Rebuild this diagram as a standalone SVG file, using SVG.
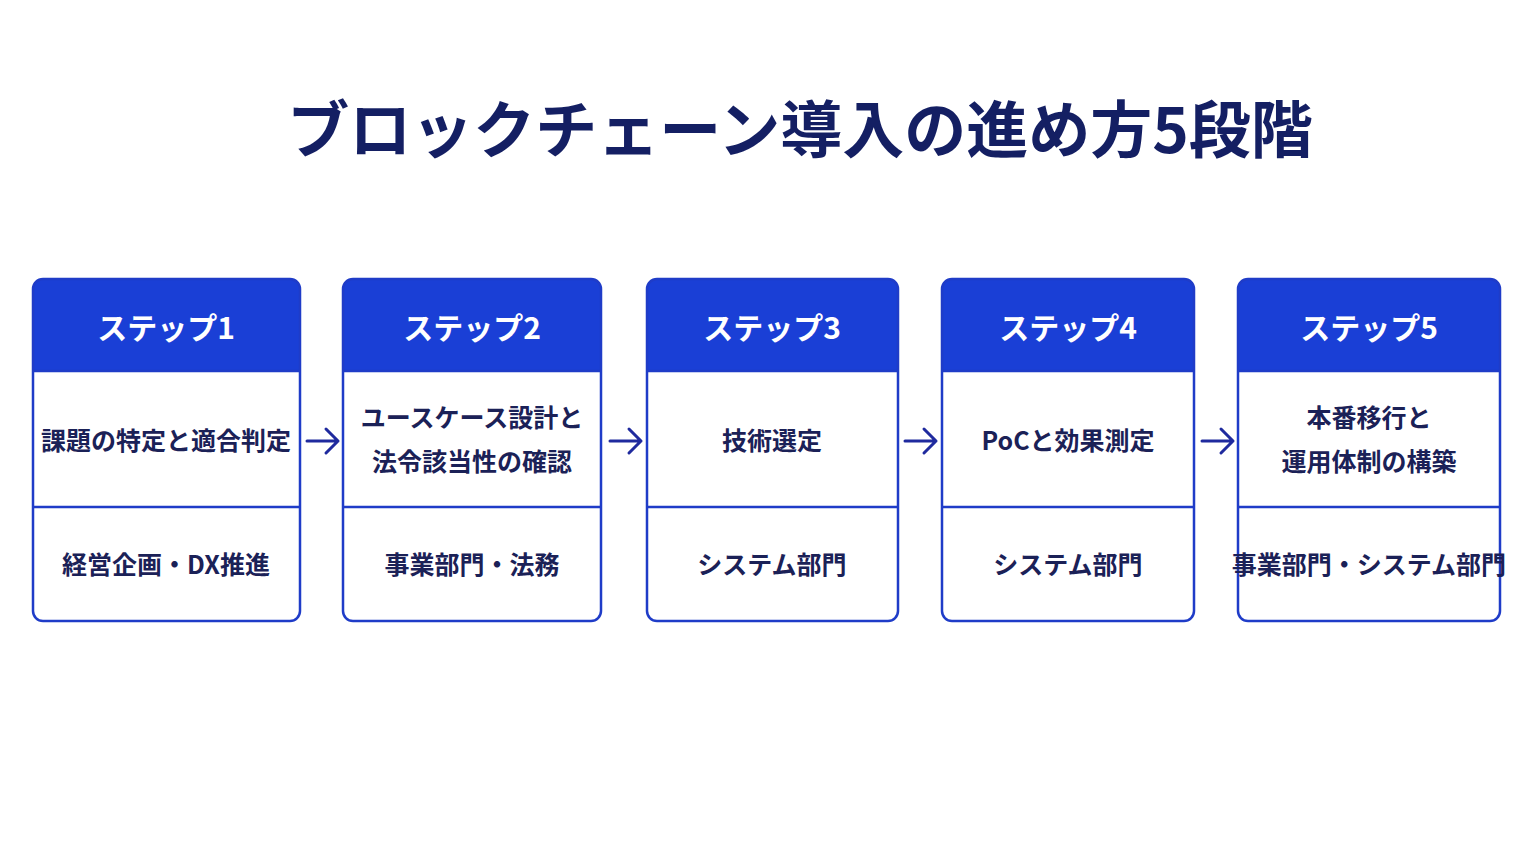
<svg xmlns="http://www.w3.org/2000/svg" width="1536" height="864" viewBox="0 0 1536 864">
<defs>
<style>
text{font-family:"Noto Sans CJK JP","Noto Sans",sans-serif;font-weight:700;text-anchor:middle}
.frame{fill:#fff;stroke:#1f3cc8;stroke-width:2.5}
.hd{fill:#1a3fd6}
.ht{fill:#fff;font-size:30px}
.bt{fill:#1b2157;font-size:25px}
.div{stroke:#1f3cc8;stroke-width:2.5}
.arr{stroke:#1f2a9e;stroke-width:3;fill:none;stroke-linecap:round;stroke-linejoin:round}
</style>
</defs>
<rect width="1536" height="864" fill="#fff"/>
<text x="800" y="153" font-size="62" fill="#141f63">ブロックチェーン導入の進め方5段階</text>
<g id="step1">
<path class="hd" d="M33 371V289a10 10 0 0 1 10-10h247a10 10 0 0 1 10 10v82z"/>
<rect class="frame" x="33" y="279" width="267" height="342" rx="10" fill="none" style="fill:none"/>
<line class="div" x1="33" y1="371" x2="300" y2="371"/><line class="div" x1="33" y1="507" x2="300" y2="507"/>
<text class="ht" x="166" y="339">ステップ1</text>
<text class="bt" x="166" y="450">課題の特定と適合判定</text>
<text class="bt" x="166" y="574">経営企画・DX推進</text>
</g>
<g id="step2">
<path class="hd" d="M343 371V289a10 10 0 0 1 10-10h238a10 10 0 0 1 10 10v82z"/>
<rect class="frame" x="343" y="279" width="258" height="342" rx="10" style="fill:none"/>
<line class="div" x1="343" y1="371" x2="601" y2="371"/><line class="div" x1="343" y1="507" x2="601" y2="507"/>
<text class="ht" x="472" y="339">ステップ2</text>
<text class="bt" x="472" y="427">ユースケース設計と</text>
<text class="bt" x="472" y="471">法令該当性の確認</text>
<text class="bt" x="472" y="574">事業部門・法務</text>
</g>
<g id="step3">
<path class="hd" d="M647 371V289a10 10 0 0 1 10-10h231a10 10 0 0 1 10 10v82z"/>
<rect class="frame" x="647" y="279" width="251" height="342" rx="10" style="fill:none"/>
<line class="div" x1="647" y1="371" x2="898" y2="371"/><line class="div" x1="647" y1="507" x2="898" y2="507"/>
<text class="ht" x="772" y="339">ステップ3</text>
<text class="bt" x="772" y="450">技術選定</text>
<text class="bt" x="772" y="574">システム部門</text>
</g>
<g id="step4">
<path class="hd" d="M942 371V289a10 10 0 0 1 10-10h232a10 10 0 0 1 10 10v82z"/>
<rect class="frame" x="942" y="279" width="252" height="342" rx="10" style="fill:none"/>
<line class="div" x1="942" y1="371" x2="1194" y2="371"/><line class="div" x1="942" y1="507" x2="1194" y2="507"/>
<text class="ht" x="1068" y="339">ステップ4</text>
<text class="bt" x="1068" y="450">PoCと効果測定</text>
<text class="bt" x="1068" y="574">システム部門</text>
</g>
<g id="step5">
<path class="hd" d="M1238 371V289a10 10 0 0 1 10-10h242a10 10 0 0 1 10 10v82z"/>
<rect class="frame" x="1238" y="279" width="262" height="342" rx="10" style="fill:none"/>
<line class="div" x1="1238" y1="371" x2="1500" y2="371"/><line class="div" x1="1238" y1="507" x2="1500" y2="507"/>
<text class="ht" x="1369" y="339">ステップ5</text>
<text class="bt" x="1369" y="427">本番移行と</text>
<text class="bt" x="1369" y="471">運用体制の構築</text>
<text class="bt" x="1369" y="574">事業部門・システム部門</text>
</g>
<g id="connectors">
<path class="arr" d="M307 441h31M326 429l12 12-12 12"/>
<path class="arr" d="M610 441h31M629 429l12 12-12 12"/>
<path class="arr" d="M905 441h31M924 429l12 12-12 12"/>
<path class="arr" d="M1202 441h31M1221 429l12 12-12 12"/>
</g>
</svg>
